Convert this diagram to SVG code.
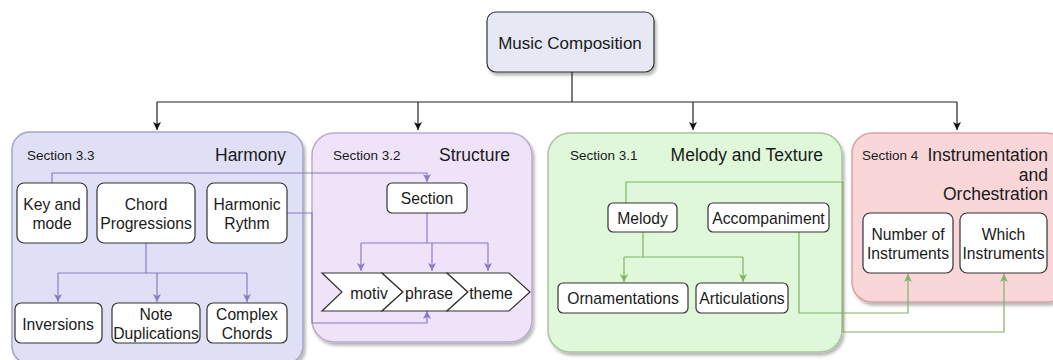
<svg xmlns="http://www.w3.org/2000/svg" width="1053" height="360" viewBox="0 0 1053 360">
<defs>
<filter id="sh" x="-10%" y="-10%" width="130%" height="130%"><feDropShadow dx="2" dy="3" stdDeviation="1.5" flood-color="#000" flood-opacity="0.28"/></filter>
<marker id="ak" markerWidth="10" markerHeight="10" refX="9" refY="5" orient="auto" markerUnits="userSpaceOnUse"><path d="M1,1 L9,5 L1,9 L3,5 Z" fill="#111"/></marker>
<marker id="ap" markerWidth="10" markerHeight="10" refX="9" refY="5" orient="auto" markerUnits="userSpaceOnUse"><path d="M1,1 L9,5 L1,9 L3,5 Z" fill="#8a7cc6"/></marker>
<marker id="ag" markerWidth="10" markerHeight="10" refX="9" refY="5" orient="auto" markerUnits="userSpaceOnUse"><path d="M1,1 L9,5 L1,9 L3,5 Z" fill="#82b366"/></marker>
</defs>
<style>
text{font-family:"Liberation Sans",Arial,sans-serif;fill:#1a1a1a}
.b{fill:#fff;stroke:#333;stroke-width:1.2}
.t{font-size:15.7px;text-anchor:middle;dominant-baseline:central}
.sec{font-size:13.5px}
.ttl{font-size:17.5px;text-anchor:end}
.ck{fill:none;stroke:#222;stroke-width:1.2}
.cp{fill:none;stroke:#8a7cc6;stroke-width:1.2}
.cg{fill:none;stroke:#82b366;stroke-width:1.2}
</style>
<rect width="1053" height="360" fill="#fff"/>

<g id="music-composition">
<rect x="487" y="12" width="167" height="60" rx="9" fill="#e6e8f4" stroke="#333" stroke-width="1.2" filter="url(#sh)"/>
<text x="570" y="43" class="t" style="font-size:17px">Music Composition</text>
</g>

<g id="harmony">
<rect x="12" y="132" width="291" height="232" rx="18" fill="#dfe0f6" stroke="#a3a5c9" stroke-width="1.5" filter="url(#sh)"/>
<text x="27" y="160" class="sec">Section 3.3</text>
<text x="286" y="161" class="ttl">Harmony</text>
</g>
<g id="structure">
<rect x="312" y="133" width="220" height="209" rx="22" fill="#eee3f9" stroke="#b9aacd" stroke-width="1.5" filter="url(#sh)"/>
<text x="333" y="160" class="sec">Section 3.2</text>
<text x="510" y="161" class="ttl">Structure</text>
</g>
<g id="melody-texture">
<rect x="548" y="133" width="294" height="219" rx="22" fill="#dff8da" stroke="#a9c4a0" stroke-width="1.5" filter="url(#sh)"/>
<text x="570" y="160" class="sec">Section 3.1</text>
<text x="823" y="161" class="ttl">Melody and Texture</text>
</g>
<g id="instrumentation">
<rect x="852" y="133" width="215" height="169" rx="20" fill="#f9d7d8" stroke="#d8a3a5" stroke-width="1.5" filter="url(#sh)"/>
<text x="862" y="160" class="sec">Section 4</text>
<text x="1048" y="161" class="ttl">Instrumentation</text>
<text x="1048" y="181" class="ttl">and</text>
<text x="1048" y="200" class="ttl">Orchestration</text>
</g>

<g id="connectors">
<path class="ck" d="M572,72 V102"/>
<path class="ck" d="M157,102 H957"/>
<path class="ck" d="M157,102 V130" marker-end="url(#ak)"/>
<path class="ck" d="M418,102 V130" marker-end="url(#ak)"/>
<path class="ck" d="M693,102 V130" marker-end="url(#ak)"/>
<path class="ck" d="M957,102 V130" marker-end="url(#ak)"/>

<path class="cp" d="M146,243 V273"/>
<path class="cp" d="M58,273 H247"/>
<path class="cp" d="M58,273 V302" marker-end="url(#ap)"/>
<path class="cp" d="M157,273 V302" marker-end="url(#ap)"/>
<path class="cp" d="M247,273 V302" marker-end="url(#ap)"/>
<path class="cp" d="M52,183 V173 H427 V182" marker-end="url(#ap)"/>
<path class="cp" d="M287,213 H312 V323 H427 V311" marker-end="url(#ap)"/>
<path class="cp" d="M427,213 V243"/>
<path class="cp" d="M361,243 H488"/>
<path class="cp" d="M361,243 V271" marker-end="url(#ap)"/>
<path class="cp" d="M432,243 V271" marker-end="url(#ap)"/>
<path class="cp" d="M488,243 V271" marker-end="url(#ap)"/>

<path class="cg" d="M643,232 V257"/>
<path class="cg" d="M624,257 H743"/>
<path class="cg" d="M624,257 V282" marker-end="url(#ag)"/>
<path class="cg" d="M743,257 V282" marker-end="url(#ag)"/>
<path class="cg" d="M626,203 V182 H843 V332 H1004 V274" marker-end="url(#ag)"/>
<path class="cg" d="M799,232 V313 H908 V274" marker-end="url(#ag)"/>
</g>

<g id="key-and-mode"><rect class="b" x="17" y="183" width="70" height="60" rx="7"/><text x="52" y="204" class="t">Key and</text><text x="52" y="223" class="t">mode</text></g>
<g id="chord-progressions"><rect class="b" x="97" y="183" width="98" height="60" rx="7"/><text x="146" y="204" class="t">Chord</text><text x="146" y="223" class="t">Progressions</text></g>
<g id="harmonic-rythm"><rect class="b" x="207" y="183" width="80" height="60" rx="7"/><text x="247" y="204" class="t">Harmonic</text><text x="247" y="223" class="t">Rythm</text></g>
<g id="inversions"><rect class="b" x="15" y="303" width="87" height="40" rx="6"/><text x="58" y="324" class="t">Inversions</text></g>
<g id="note-duplications"><rect class="b" x="112" y="303" width="88" height="40" rx="6"/><text x="156" y="314" class="t">Note</text><text x="156" y="333" class="t">Duplications</text></g>
<g id="complex-chords"><rect class="b" x="207" y="303" width="80" height="40" rx="6"/><text x="247" y="314" class="t">Complex</text><text x="247" y="333" class="t">Chords</text></g>

<g id="section"><rect class="b" x="387" y="183" width="80" height="30" rx="5"/><text x="427" y="198" class="t">Section</text></g>
<g id="motiv"><path class="b" d="M322,273 H382 L403,292 L382,311 H322 L342,292 Z"/><text x="369" y="293" class="t">motiv</text></g>
<g id="phrase"><path class="b" d="M382,273 H447 L468,292 L447,311 H382 L403,292 Z"/><text x="429" y="293" class="t">phrase</text></g>
<g id="theme"><path class="b" d="M447,273 H509 L530,292 L509,311 H447 L468,292 Z"/><text x="491" y="293" class="t">theme</text></g>

<g id="melody"><rect class="b" x="608" y="203" width="69" height="29" rx="5"/><text x="642.5" y="218" class="t">Melody</text></g>
<g id="accompaniment"><rect class="b" x="708" y="203" width="121" height="29" rx="5"/><text x="768.5" y="218" class="t">Accompaniment</text></g>
<g id="ornamentations"><rect class="b" x="558" y="283" width="130" height="30" rx="5"/><text x="623" y="298" class="t">Ornamentations</text></g>
<g id="articulations"><rect class="b" x="696" y="283" width="92" height="30" rx="5"/><text x="742" y="298" class="t">Articulations</text></g>

<g id="number-of-instruments"><rect class="b" x="863" y="213" width="90" height="60" rx="7"/><text x="908" y="234" class="t">Number of</text><text x="908" y="253" class="t">Instruments</text></g>
<g id="which-instruments"><rect class="b" x="960" y="213" width="87" height="60" rx="7"/><text x="1003.5" y="234" class="t">Which</text><text x="1003.5" y="253" class="t">Instruments</text></g>
</svg>
